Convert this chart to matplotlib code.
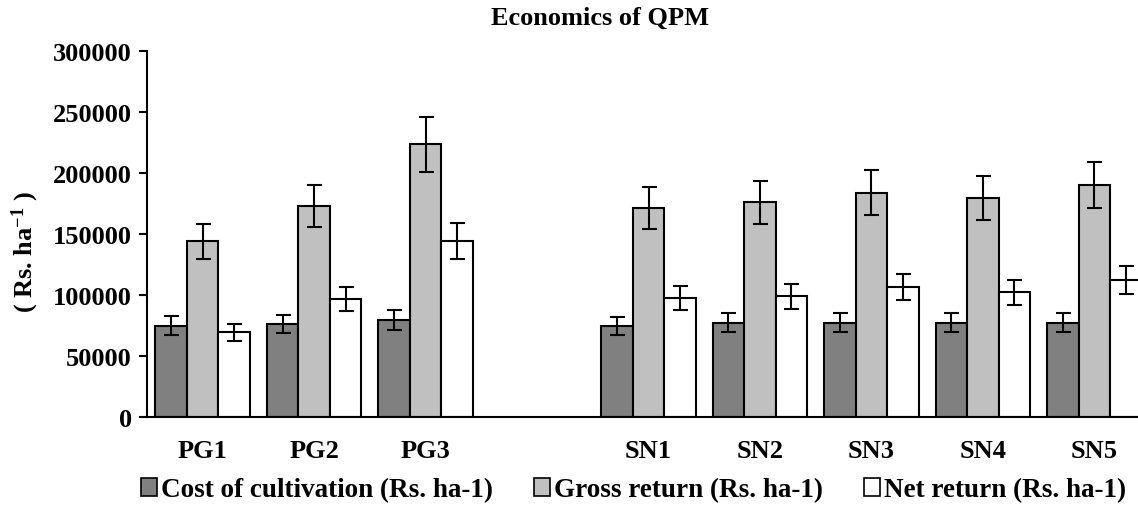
import numpy as np
import matplotlib
matplotlib.use("Agg")
import matplotlib.pyplot as plt
from matplotlib.patches import Patch

plt.rcParams["font.family"] = ["Liberation Serif", "DejaVu Serif"]
plt.rcParams["font.weight"] = "bold"
plt.rcParams["mathtext.fontset"] = "custom"
plt.rcParams["mathtext.rm"] = "Liberation Serif:bold"
plt.rcParams["mathtext.bf"] = "Liberation Serif:bold"
plt.rcParams["mathtext.default"] = "bf"

categories = ["PG1", "PG2", "PG3", "SN1", "SN2", "SN3", "SN4", "SN5"]
cost = [75000, 76200, 79500, 74500, 77300, 77300, 77300, 77300]
gross = [144300, 173200, 223800, 171300, 176200, 184100, 179800, 190400]
net = [69600, 97000, 144500, 97500, 98900, 106500, 102500, 112500]
cost_err = [7500, 7600, 8000, 7500, 7700, 7700, 7700, 7700]
gross_err = [14400, 17300, 22400, 17100, 17600, 18400, 18000, 19000]
net_err = [7000, 9700, 14500, 9700, 9900, 10600, 10200, 11200]

series_labels = ["Cost of cultivation (Rs. ha-1)",
                 "Gross return (Rs. ha-1)",
                 "Net return (Rs. ha-1)"]
colors = ["#808080", "#C0C0C0", "#FFFFFF"]

fig = plt.figure(figsize=(11.38, 5.06), dpi=100)
ax = fig.add_axes([147 / 1138, 88 / 506, 1003 / 1138, 365.6 / 506])

# one empty slot between the PG and SN groups
x = np.arange(len(categories), dtype=float)
x[3:] += 1
w = 0.283

for k, (vals, errs) in enumerate([(cost, cost_err), (gross, gross_err), (net, net_err)]):
    ax.bar(x + (k - 1) * w, vals, w, color=colors[k], edgecolor="black",
           linewidth=1.5, label=series_labels[k], zorder=2)
    ax.errorbar(x + (k - 1) * w, vals, yerr=errs, fmt="none", ecolor="black",
                elinewidth=1.5, capsize=5.4, capthick=1.5, zorder=3)

ax.set_xlim(-0.5, 8.5)
ax.set_ylim(0, 300000)
ax.set_yticks(np.arange(0, 300001, 50000))
ax.set_xticks(x)
ax.set_xticklabels(categories)
ax.tick_params(axis="x", length=0, pad=16, labelsize=19)
ax.tick_params(axis="y", length=6, width=1.5, pad=5, labelsize=19)
for t in ax.get_xticklabels() + ax.get_yticklabels():
    t.set_fontweight("bold")

for s in ["top", "right"]:
    ax.spines[s].set_visible(False)
ax.spines["left"].set_linewidth(1.5)
ax.spines["bottom"].set_linewidth(1.5)

fig.text(25 / 1138, 1 - 252 / 506, "( Rs. ha$^{-1}$ )", rotation=90,
         ha="center", va="center", fontsize=19, fontweight="bold")
fig.text(600 / 1138, 1 - 18 / 506, "Economics of QPM", ha="center", va="center",
         fontsize=19, fontweight="bold")

handles = [Patch(facecolor=c, edgecolor="black", linewidth=1.2) for c in colors]
fig.legend(handles, series_labels, loc="center left", ncol=3,
           bbox_to_anchor=(141 / 1138, 1 - 491 / 506), frameon=False,
           fontsize=19.5, handlelength=0.6, handleheight=0.6,
           handletextpad=0.15, columnspacing=1.5, borderaxespad=0, borderpad=0)

fig.savefig("out.png", dpi=100)
